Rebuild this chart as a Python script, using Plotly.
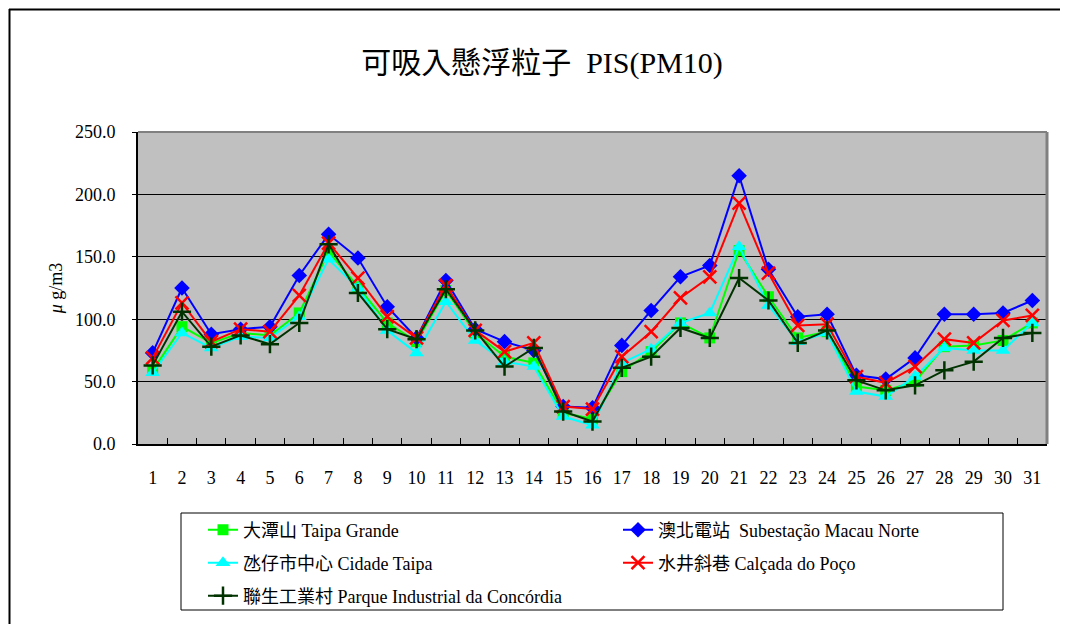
import plotly.graph_objects as go

days = [str(i) for i in range(1, 32)]

taipa_grande = [59, 94, 81, 89, 87, 105, 154, 126, 97, 82, 123, 89, 70, 65, 25, 20, 58, 74, 97, 85,
                155, 118, 85, 90, 46, 43, 50, 78, 79, 83, 97]
macau_norte = [73, 125, 88, 92, 94, 135, 168, 149, 110, 85, 131, 92, 82, 75, 30, 29, 79, 107, 134, 143,
               215, 140, 102, 104, 55, 52, 69, 104, 104, 105, 115]
cidade_taipa = [57, 89, 77, 86, 85, 102, 148, 125, 91, 73, 114, 83, 66, 62, 22, 15, 65, 76, 97, 105,
                158, 111, 82, 89, 42, 38, 54, 77, 75, 75, 97]
calcada_poco = [69, 113, 82, 92, 90, 119, 161, 133, 102, 85, 127, 91, 74, 81, 30, 28, 70, 90, 117, 134,
                193, 137, 95, 96, 54, 49, 62, 84, 81, 99, 103]
concordia = [63, 106, 78, 87, 80, 97, 160, 121, 92, 84, 124, 91, 62, 77, 26, 18, 61, 70, 93, 85,
             133, 115, 81, 91, 51, 43, 47, 59, 66, 85, 89]

names = ["大潭山 Taipa Grande", "澳北電站  Subestação Macau Norte", "氹仔市中心 Cidade Taipa",
         "水井斜巷 Calçada do Poço", "聯生工業村 Parque Industrial da Concórdia"]
series = [taipa_grande, macau_norte, cidade_taipa, calcada_poco, concordia]
colors = ["#00FF00", "#0000FF", "#00FFFF", "#FF0000", "#003300"]
symbols = ["square", "diamond", "triangle-up", "x-thin", "cross-thin"]
sizes = [11, 12, 13, 13, 13]
legend_ids = ["legend", "legend", "legend2", "legend2", "legend3"]

FONT = "Liberation Serif, Times New Roman, Noto Sans CJK TC, serif"

fig = go.Figure()
for name, vals, c, s, sz, lg in zip(names, series, colors, symbols, sizes, legend_ids):
    thin = s.endswith("thin")
    fig.add_trace(go.Scatter(
        x=days, y=vals, name=name, mode="lines+markers", legend=lg,
        line=dict(color=c, width=2),
        marker=dict(symbol=s, size=sz, color=c,
                    line=dict(color=c, width=2.5 if thin else 0)),
    ))

# page has an 8px body margin; work in screen pixels and convert
OFF = 8
L, R, T, B = 138 - OFF, 1047 - OFF, 132 - OFF, 444 - OFF
W, H = R - L, B - T

def px(xs):
    return (xs - OFF - L) / W

def py(ys):
    return (B - (ys - OFF)) / H

shapes = [
    # grey top/right plot border
    dict(type="line", xref="paper", yref="paper", x0=0, x1=1, y0=1, y1=1,
         line=dict(color="#808080", width=2)),
    dict(type="line", xref="paper", yref="paper", x0=1, x1=1, y0=0, y1=1,
         line=dict(color="#808080", width=3)),
    # outer chart frame (as close to the page edge as the figure allows)
    dict(type="line", xref="paper", yref="paper", x0=px(9), x1=px(1080), y0=py(9.5), y1=py(9.5),
         line=dict(color="black", width=2)),
    dict(type="line", xref="paper", yref="paper", x0=px(9.5), x1=px(9.5), y0=py(9), y1=py(640),
         line=dict(color="black", width=2)),
    # legend box
    dict(type="rect", xref="paper", yref="paper", x0=px(181), x1=px(1003), y0=py(513), y1=py(610),
         line=dict(color="black", width=1), fillcolor="white", layer="below"),
]

leg_common = dict(orientation="h", xanchor="left", yanchor="middle",
                  bgcolor="rgba(0,0,0,0)", borderwidth=0,
                  entrywidth=370, entrywidthmode="pixels",
                  font=dict(family=FONT, size=18, color="black"))

fig.update_layout(
    width=1068, height=624,
    margin=dict(l=L, r=1068 - R, t=T, b=624 - B, autoexpand=False),
    paper_bgcolor="white", plot_bgcolor="#C0C0C0",
    font=dict(family=FONT, size=18, color="black"),
    title=dict(text="可吸入懸浮粒子  PIS(PM10)", x=0.5, xanchor="center",
               y=1 - (62 - OFF) / 624, yanchor="middle",
               font=dict(family=FONT, size=30, color="black")),
    shapes=shapes,
    showlegend=True,
    legend=dict(x=px(203), y=py(530), **leg_common),
    legend2=dict(x=px(203), y=py(563), **leg_common),
    legend3=dict(x=px(203), y=py(596), **leg_common),
)

fig.update_xaxes(type="category", categoryorder="array", categoryarray=days,
                 range=[-0.5, len(days) - 0.5],
                 showgrid=False, showline=True, linecolor="black", linewidth=2,
                 ticks="inside", tickson="boundaries", ticklen=6, tickcolor="black",
                 tickangle=0,
                 tickfont=dict(family=FONT, size=18), ticklabelstandoff=16)
fig.update_yaxes(range=[0, 250], dtick=50, tickformat=".1f",
                 showgrid=True, gridcolor="black", gridwidth=1,
                 showline=True, linecolor="black", linewidth=2,
                 ticks="outside", ticklen=4, tickcolor="black",
                 ticklabelstandoff=13,
                 tickfont=dict(family=FONT, size=18), zeroline=False,
                 title=dict(text="<i>μ</i> g/m3", font=dict(family=FONT, size=18), standoff=8))

fig.write_html("out.html")
